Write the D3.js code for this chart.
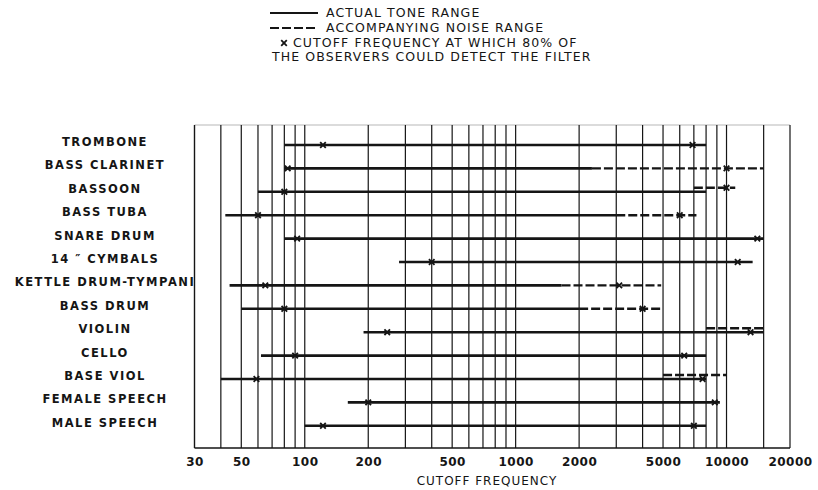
<!DOCTYPE html>
<html><head><meta charset="utf-8">
<script src="https://cdn.jsdelivr.net/npm/d3@7"></script>
<style>body{margin:0;background:#fff}</style>
</head><body>
<svg id="c" width="818" height="490"></svg>
<script>
const categories = ["TROMBONE","BASS CLARINET","BASSOON","BASS TUBA","SNARE DRUM","14 \u2033 CYMBALS","KETTLE DRUM-TYMPANI","BASS DRUM","VIOLIN","CELLO","BASE VIOL","FEMALE SPEECH","MALE SPEECH"];
const toneLow   = [80, 80, 60, 42, 80, 280, 44, 50, 190, 62, 40, 160, 100];
const toneHigh  = [8000, 2300, 8000, 3000, 15000, 13300, 1650, 2000, 15000, 8000, 8000, 9300, 8000];
const noiseLow  = [null, 2300, 7000, 3000, null, null, 1650, 2000, 8000, null, 5000, null, null];
const noiseHigh = [null, 15000, 11000, 7200, null, null, 4900, 4900, 15000, null, 10000, null, null];
const cutoffLow  = [122, 83, 80, 60, 92, 400, 65, 80, 246, 90, 59, 200, 122];
const cutoffHigh = [6900, 10000, 10000, 6000, 14000, 11300, 3100, 4000, 13000, 6300, 7700, 8800, 7000];
const tickValues = [30,50,100,200,500,1000,2000,5000,10000,20000];
const tickLabels = ["30","50","100","200","500","1000","2000","5000","10000","20000"];
const gridValues = [40,50,60,70,80,90,100,200,300,400,500,600,700,800,900,1000,2000,3000,4000,5000,6000,7000,8000,9000,10000,15000,20000];
const legendLabels = ["ACTUAL TONE RANGE","ACCOMPANYING NOISE RANGE","CUTOFF FREQUENCY AT WHICH 80% OF","THE OBSERVERS COULD DETECT THE FILTER"];
const xTitle = "CUTOFF FREQUENCY";

(function () {
const svg = d3.select("#c");
const ink = "#151515";
const plotTop = 125, plotBottom = 448;
const x = d3.scaleLog().domain([30, 20000]).range([194.5, 790]);
const y = d3.scalePoint().domain(categories).range([145, 425.8]);

// frame
svg.append("line").attr("x1", x(30)).attr("x2", x(20000)).attr("y1", plotTop).attr("y2", plotTop)
  .attr("stroke", "#999").attr("stroke-width", 0.7);
svg.append("line").attr("x1", x(30)).attr("x2", x(30)).attr("y1", plotTop).attr("y2", plotBottom)
  .attr("stroke", ink).attr("stroke-width", 1.4);
svg.append("line").attr("x1", x(30)).attr("x2", x(20000)).attr("y1", plotBottom).attr("y2", plotBottom)
  .attr("stroke", ink).attr("stroke-width", 1.4);
// grid
svg.append("g").selectAll("line").data(gridValues).join("line")
  .attr("x1", d => x(d)).attr("x2", d => x(d)).attr("y1", plotTop).attr("y2", plotBottom)
  .attr("stroke", ink).attr("stroke-width", 1.2);

// axis
const ax = svg.append("g").attr("transform", `translate(0,${plotBottom})`)
  .call(d3.axisBottom(x).tickValues(tickValues).tickFormat((d, i) => tickLabels[i]).tickSize(0).tickPadding(9));
ax.select(".domain").remove();
ax.selectAll("text").attr("font-family", "DejaVu Sans").attr("font-weight", "bold")
  .attr("font-size", 12).attr("fill", ink).attr("letter-spacing", 0.5);
svg.append("text").attr("x", 487).attr("y", 485).attr("text-anchor", "middle")
  .attr("font-family", "DejaVu Sans").attr("font-size", 12).attr("letter-spacing", 1)
  .attr("fill", ink).text(xTitle);

// row labels
svg.append("g").selectAll("text").data(categories).join("text")
  .attr("x", 105).attr("y", d => y(d) - 3).attr("dy", "0.35em").attr("text-anchor", "middle")
  .attr("font-family", "DejaVu Sans").attr("font-weight", "bold").attr("font-size", 11.5)
  .attr("letter-spacing", 1.5).attr("fill", ink).text(d => d);

const rows = categories.map((c, i) => ({c, i}));
// tone lines
svg.append("g").selectAll("line").data(rows).join("line")
  .attr("x1", d => x(toneLow[d.i])).attr("x2", d => x(toneHigh[d.i]))
  .attr("y1", d => y(d.c)).attr("y2", d => y(d.c))
  .attr("stroke", ink).attr("stroke-width", 2.6);
// noise lines
const noiseY = d => y(d.c) - (noiseLow[d.i] < toneHigh[d.i] ? 4 : 0);
svg.append("g").selectAll("line").data(rows.filter(d => noiseLow[d.i] != null)).join("line")
  .attr("x1", d => x(noiseLow[d.i])).attr("x2", d => x(noiseHigh[d.i]))
  .attr("y1", noiseY).attr("y2", noiseY)
  .attr("stroke", ink).attr("stroke-width", 2.4).attr("stroke-dasharray", "9,3");

function cross(g, cx, cy) {
  const s = 2.8;
  g.append("path").attr("d", `M${cx - s},${cy - s}L${cx + s},${cy + s}M${cx - s},${cy + s}L${cx + s},${cy - s}`)
    .attr("stroke", ink).attr("stroke-width", 1.8).attr("fill", "none");
}
const mk = svg.append("g");
rows.forEach(d => {
  cross(mk, x(cutoffLow[d.i]), y(d.c));
  const onNoise = noiseLow[d.i] != null && cutoffHigh[d.i] > toneHigh[d.i];
  cross(mk, x(cutoffHigh[d.i]), onNoise ? noiseY(d) : y(d.c));
});

// legend
const lg = svg.append("g");
const lf = t => t.attr("font-family", "DejaVu Sans").attr("font-size", 12.5).attr("letter-spacing", 1.1)
  .attr("fill", ink).attr("dy", "0.35em");
lg.append("line").attr("x1", 270).attr("x2", 318).attr("y1", 13).attr("y2", 13).attr("stroke", ink).attr("stroke-width", 2);
lg.append("line").attr("x1", 270).attr("x2", 318).attr("y1", 28).attr("y2", 28).attr("stroke", ink).attr("stroke-width", 2).attr("stroke-dasharray", "9,3");
cross(lg, 284, 43);
lf(lg.append("text").attr("x", 326).attr("y", 13).text(legendLabels[0]));
lf(lg.append("text").attr("x", 326).attr("y", 28).text(legendLabels[1]));
lf(lg.append("text").attr("x", 293).attr("y", 43).text(legendLabels[2]));
lf(lg.append("text").attr("x", 272).attr("y", 57).text(legendLabels[3]));
})();
</script>
</body></html>
